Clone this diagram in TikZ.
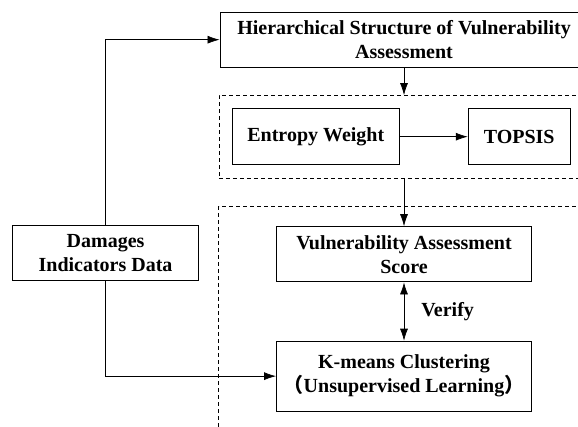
\documentclass[tikz,border=0pt]{standalone}
\usepackage{fontspec}
\setmainfont{Liberation Serif}
\newfontfamily\cjk{Noto Sans CJK SC}
\usetikzlibrary{arrows.meta,positioning,fit,calc}
\newcommand{\bloque}[5]{%
  \node[draw=black, line width=0.9pt, align=center,
        font=\fontsize{20}{24}\selectfont\bfseries,
        inner sep=3pt, minimum width=#2, minimum height=#3, #4] (#1) {#5}}

\begin{document}
\begin{tikzpicture}[x=1pt, y=-1pt,
  flecha/.style={-{Latex[length=12pt,width=8pt]}, line width=0.7pt},
  grupo/.style={draw, dash pattern=on 4pt off 3pt, line width=0.7pt}]

\path[use as bounding box] (0,0) rectangle (578,427);
\clip (0,0) rectangle (578,427);

\bloque{Jerarquia}{368pt}{54.7pt}{at={(404,39.7)}}
  {Hierarchical Structure of Vulnerability \\ Assessment};

\bloque{Entropia}{167pt}{55.5pt}{below right=41pt and 12.3pt of Jerarquia.south west}
  {Entropy Weight};

\bloque{Topsis}{102pt}{55.5pt}{right=68pt of Entropia}
  {TOPSIS};

\bloque{Puntaje}{255pt}{55.3pt}{below=158.7pt of Jerarquia}
  {Vulnerability Assessment \\ Score};

\bloque{Kmeans}{255pt}{70pt}{below=58.3pt of Puntaje}
  {K-means Clustering \\ {\cjk （}Unsupervised Learning{\cjk ）}};

\bloque{Danos}{186.7pt}{55pt}{left=76.7pt of Puntaje, yshift=1.5pt}
  {Damages \\ Indicators Data};

% grupos punteados
\node[grupo, fit=(Entropia)(Topsis), inner sep=13pt] (Grupo1) {};
\draw[grupo] ($(Grupo1.south west)+(0,28)$) rectangle ++(420,280);

\draw[flecha] (Jerarquia.south) -- (Jerarquia.south |- Grupo1.north);
\draw[flecha] (Entropia) -- (Topsis);
\draw[flecha] (Puntaje.north |- Grupo1.south) -- (Puntaje.north);
\draw[flecha, {Latex[length=12pt,width=8pt]}-{Latex[length=12pt,width=8pt]}] (Puntaje) --
  node[right=14pt, inner sep=3pt, font=\fontsize{20}{24}\selectfont\bfseries]{Verify} (Kmeans);
\draw[flecha] (Danos.north) |- (Jerarquia.west);
\draw[flecha] (Danos.south) |- (Kmeans.west);

\end{tikzpicture}
\end{document}
